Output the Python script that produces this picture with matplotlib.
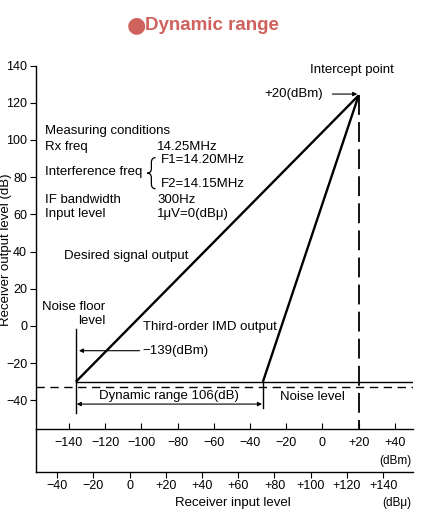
import matplotlib
matplotlib.use("Agg")
import matplotlib.pyplot as plt
from matplotlib.path import Path
from matplotlib.patches import PathPatch

plt.rcParams['font.family'] = ['Liberation Sans', 'DejaVu Sans']

# input level in dBm, output level in dB
noise_floor_in = -136.2
noise_floor_out = -30
noise_level_out = -33
imd_start_in = -32.9
intercept_in = 20
intercept_out = 124
dbu_offset = 106.5

desired_x = [noise_floor_in, intercept_in]
desired_y = [noise_floor_out, intercept_out]
imd_x = [imd_start_in, intercept_in]
imd_y = [noise_floor_out, intercept_out]

y_ticks = [140, 120, 100, 80, 60, 40, 20, 0, -20, -40]
dbm_ticks = [-140, -120, -100, -80, -60, -40, -20, 0, 20, 40]
dbu_ticks = [-40, -20, 0, 20, 40, 60, 80, 100, 120, 140]

conditions = [("Rx freq", "14.25MHz", 96),
              ("Interference freq", None, 83),
              ("IF bandwidth", "300Hz", 68),
              ("Input level", "1\u03bcV=0(dB\u03bc)", 60)]


def signed(v, _=None):
    if v > 0:
        return "+%g" % v
    if v < 0:
        return "\u2212%g" % -v
    return "0"


def plain(v, _=None):
    return "\u2212%g" % -v if v < 0 else "%g" % v


def brace(ax, x_tip, x_end, y_top, y_bot, r=2.6):
    # left curly brace drawn as a path
    xm = (x_tip + x_end) / 2
    ym = (y_top + y_bot) / 2
    verts = [(x_end, y_top), (xm, y_top), (xm, y_top - r),
             (xm, ym + r), (xm, ym), (x_tip, ym),
             (xm, ym), (xm, ym - r),
             (xm, y_bot + r), (xm, y_bot), (x_end, y_bot)]
    codes = [Path.MOVETO, Path.CURVE3, Path.CURVE3,
             Path.LINETO, Path.CURVE3, Path.CURVE3,
             Path.CURVE3, Path.CURVE3,
             Path.LINETO, Path.CURVE3, Path.CURVE3]
    ax.add_patch(PathPatch(Path(verts, codes), fill=False, lw=0.9, color="black"))


fig = plt.figure(figsize=(4.22, 5.13), dpi=100)
ax = fig.add_axes([35.5 / 422, (513 - 429) / 513, (413 - 35.5) / 422, (429 - 65.6) / 513])
ax.set_xlim(-158.5, 50)
ax.set_ylim(-55.4, 140)

for s in ["top", "right"]:
    ax.spines[s].set_visible(False)
for s in ["left", "bottom"]:
    ax.spines[s].set_linewidth(1.0)

ax.set_yticks(y_ticks)
ax.set_yticklabels([plain(v) for v in y_ticks])
ax.set_xticks(dbm_ticks)
ax.set_xticklabels([signed(v) for v in dbm_ticks])
ax.tick_params(axis="y", direction="out", length=4, width=0.8, labelsize=9, pad=2)
ax.tick_params(axis="x", direction="in", length=4, width=0.8, labelsize=9, pad=6)

sec_loc = -43 / (429 - 65.6)
sec = ax.secondary_xaxis(sec_loc, functions=(lambda x: x + dbu_offset, lambda x: x - dbu_offset))
sec.set_xticks(dbu_ticks)
sec.set_xticklabels([signed(v) for v in dbu_ticks])
sec.tick_params(direction="out", length=4, width=0.8, labelsize=9, pad=2)
sec.spines["bottom"].set_linewidth(1.0)
ax.plot([0, 0], [0, sec_loc], transform=ax.transAxes, color="black", lw=1.0, clip_on=False)

# lines
ax.plot(desired_x, desired_y, color="black", lw=1.7, solid_capstyle="butt")
ax.plot(imd_x, imd_y, color="black", lw=1.7, solid_capstyle="butt")
ax.plot([noise_floor_in, 50], [noise_floor_out, noise_floor_out], color="black", lw=1.0)
ax.axhline(noise_level_out, color="black", lw=1.0, ls=(0, (6, 4)))
ax.plot([intercept_in, intercept_in], [intercept_out, -55.4], color="black", lw=1.3, ls=(0, (11, 4)))
ax.plot([noise_floor_in, noise_floor_in], [-1.6, -46.8], color="black", lw=1.0)
ax.plot([imd_start_in, imd_start_in], [noise_floor_out, -44], color="black", lw=1.0)

arrow = dict(arrowstyle="-|>", color="black", lw=0.8, mutation_scale=6, shrinkA=0, shrinkB=0)
ax.annotate("", xy=(19.2, 124.7), xytext=(5.5, 124.7), arrowprops=arrow)
ax.annotate("", xy=(-134.5, -13.3), xytext=(-101, -13.3), arrowprops=arrow)
ax.annotate("", xy=(imd_start_in - 0.5, -42), xytext=(noise_floor_in + 0.5, -42),
            arrowprops=dict(arrow, arrowstyle="<|-|>"))

fs = 9.5
ax.text(16.2, 137.6, "Intercept point", fontsize=fs, ha="center", va="center")
ax.text(0.2, 124.7, "+20(dBm)", fontsize=fs, ha="right", va="center")
ax.text(-153.3, 105, "Measuring conditions", fontsize=fs, va="center")
for name, val, yy in conditions:
    ax.text(-153.3, yy, name, fontsize=fs, va="center")
    if val:
        ax.text(-91.4, yy, val, fontsize=fs, va="center")
brace(ax, -96.8, -92.2, 90.5, 73.8)
ax.text(-89.2, 89.5, "F1=14.20MHz", fontsize=fs, va="center")
ax.text(-89.2, 76.5, "F2=14.15MHz", fontsize=fs, va="center")
ax.text(-108.5, 37.6, "Desired signal output", fontsize=fs, ha="center", va="center")
ax.text(-120, 10.2, "Noise floor", fontsize=fs, ha="right", va="center")
ax.text(-120, 2.7, "level", fontsize=fs, ha="right", va="center")
ax.text(-99.2, -0.5, "Third-order IMD output", fontsize=fs, va="center")
ax.text(-99.5, -13.3, "\u2212139(dBm)", fontsize=fs, va="center")
ax.text(-84.8, -37.4, "Dynamic range 106(dB)", fontsize=fs, ha="center", va="center")
ax.text(-5.7, -38.2, "Noise level", fontsize=fs, ha="center", va="center")

fig.text(411 / 422, 1 - 461 / 513, "(dBm)", fontsize=8.5, ha="right", va="center")
fig.text(411 / 422, 1 - 503 / 513, "(dB\u03bc)", fontsize=8.5, ha="right", va="center")
fig.text(233 / 422, 1 - 503 / 513, "Receiver input level", fontsize=fs, ha="center", va="center")
fig.text(6 / 422, 1 - 250 / 513, "Receiver output level (dB)", fontsize=fs, rotation=90,
         ha="center", va="center")
fig.text(136.5 / 422, 1 - 25.5 / 513, "\u25cf", fontsize=16, family="DejaVu Sans",
         color="#d0625e", ha="center", va="center")
fig.text(145 / 422, 1 - 25 / 513, "Dynamic range", fontsize=13.5, fontweight="bold",
         color="#d0625e", ha="left", va="center")

fig.savefig("out.png", dpi=100)
